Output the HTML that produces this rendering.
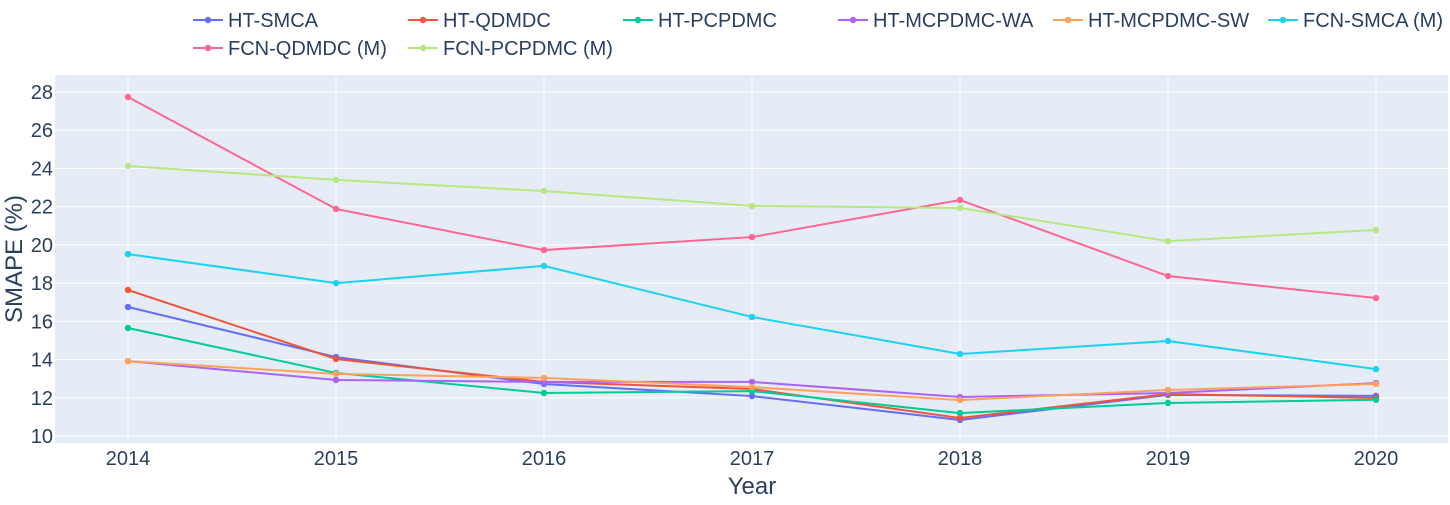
<!DOCTYPE html>
<html><head><meta charset="utf-8"><style>
body{margin:0;background:#fff;font-family:"Liberation Sans",Arial,sans-serif}
</style></head><body>
<svg id="chart" width="1450" height="500" xmlns="http://www.w3.org/2000/svg" style="font-family:'Liberation Sans',Arial,sans-serif">
<rect x="55" y="75" width="1393" height="368" fill="#e5ecf6"/>
<g id="grid"></g><g id="lines"></g><g id="axes"></g><g id="legend"></g>
<text x="752" y="494" text-anchor="middle" font-size="24" fill="#2a3f5f">Year</text>
<text transform="translate(22,259) rotate(-90)" text-anchor="middle" font-size="24" fill="#2a3f5f">SMAPE (%)</text>
</svg>
<script>
const years=[2014,2015,2016,2017,2018,2019,2020];
const yTicks=[10,12,14,16,18,20,22,24,26,28];
const seriesNames=["HT-SMCA","HT-QDMDC","HT-PCPDMC","HT-MCPDMC-WA","HT-MCPDMC-SW","FCN-SMCA (M)","FCN-QDMDC (M)","FCN-PCPDMC (M)"];
const seriesColors=["#636efa","#EF553B","#00cc96","#ab63fa","#FFA15A","#19d3f3","#FF6692","#B6E880"];
const htSmca=[16.75,14.13,12.72,12.09,10.84,12.15,12.1];
const htQdmdc=[17.64,14.03,12.83,12.46,10.94,12.2,11.99];
const htPcpdmc=[15.65,13.3,12.25,12.35,11.2,11.73,11.9];
const htMcpdmcWa=[13.92,12.93,12.83,12.83,12.04,12.25,12.77];
const htMcpdmcSw=[13.92,13.25,13.04,12.56,11.88,12.41,12.72];
const fcnSmca=[19.52,18.0,18.9,16.23,14.29,14.97,13.5];
const fcnQdmdc=[27.74,21.88,19.73,20.41,22.35,18.37,17.22];
const fcnPcpdmc=[24.13,23.4,22.82,22.04,21.93,20.2,20.78];
const allSeries=[htSmca,htQdmdc,htPcpdmc,htMcpdmcWa,htMcpdmcSw,fcnSmca,fcnQdmdc,fcnPcpdmc];
const NS="http://www.w3.org/2000/svg";
const xScale=y=>128+(y-2014)*208;
const yScale=v=>436-(v-10)*19.11;
function mk(tag,attrs,parent,text){const e=document.createElementNS(NS,tag);for(const k in attrs)e.setAttribute(k,attrs[k]);if(text!==undefined)e.textContent=text;parent.appendChild(e);return e;}
const grid=document.getElementById('grid'),axes=document.getElementById('axes'),lines=document.getElementById('lines'),legend=document.getElementById('legend');
yTicks.forEach(t=>{
 const l=mk('line',{x1:55,x2:1448,y1:yScale(t),y2:yScale(t),stroke:'#fff','stroke-width':1},grid);
 
 
 const tx=mk('text',{x:53,y:yScale(t)+7,'text-anchor':'end','font-size':20,fill:'#2a3f5f'},axes,String(t));
 
 
});
years.forEach(yr=>{
 const l=mk('line',{x1:xScale(yr),x2:xScale(yr),y1:75,y2:443,stroke:'#fff','stroke-width':1},grid);
 
 
 const tx=mk('text',{x:xScale(yr),y:465,'text-anchor':'middle','font-size':20,fill:'#2a3f5f'},axes,String(yr));
 
 
});
allSeries.forEach((s,i)=>{
 const g=mk('g',{},lines);
 
 
 const pts=s.map((v,j)=>xScale(years[j])+','+yScale(v)).join(' ');
 mk('polyline',{points:pts,fill:'none',stroke:seriesColors[i],'stroke-width':2},g);
 s.forEach((v,j)=>{
  const c=mk('circle',{cx:xScale(years[j]),cy:yScale(v),r:3.2,fill:seriesColors[i]},g);
  
  
 });
});
seriesNames.forEach((n,i)=>{
 const x=193+(i%6)*215, y=i<6?20:48;
 const g=mk('g',{},legend);
 
 
 mk('line',{x1:x,x2:x+30,y1:y,y2:y,stroke:seriesColors[i],'stroke-width':2},g);
 mk('circle',{cx:x+15,cy:y,r:3.2,fill:seriesColors[i]},g);
 mk('text',{x:x+35,y:y+7,'font-size':20,fill:'#2a3f5f'},g,n);
});
</script>
</body></html>
